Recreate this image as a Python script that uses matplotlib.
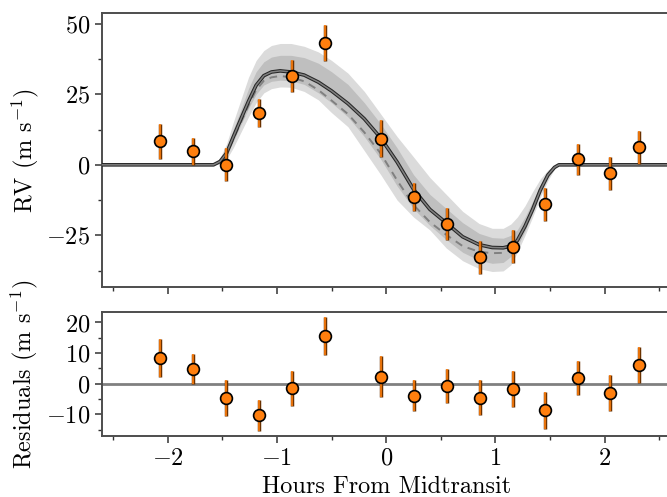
import numpy as np
import matplotlib
matplotlib.use("Agg")
import matplotlib.pyplot as plt
from matplotlib.ticker import MultipleLocator

plt.rcParams["font.family"] = "serif"
plt.rcParams["font.serif"] = ["cmr10"]
plt.rcParams["mathtext.fontset"] = "cm"
plt.rcParams["axes.formatter.use_mathtext"] = True
plt.rcParams["axes.unicode_minus"] = True

# observed RVs (hours from midtransit, m/s)
t_obs = [-2.068, -1.766, -1.467, -1.162, -0.863, -0.564, -0.045, 0.253,
         0.555, 0.854, 1.156, 1.452, 1.757, 2.052, 2.315]
rv_obs = [8.4, 4.85, 0.0, 18.3, 31.6, 43.2, 9.2, -11.4,
          -21.0, -32.8, -29.0, -14.0, 1.9, -3.05, 6.15]
rv_err = [6.2, 4.8, 5.8, 5.0, 5.7, 6.3, 6.6, 5.0,
          5.6, 5.75, 5.8, 5.9, 5.5, 5.8, 6.0]
resid = [8.3, 4.8, -4.66, -10.3, -1.4, 15.55, 2.3, -3.9,
         -0.75, -4.55, -1.7, -8.7, 1.97, -3.0, 6.1]

# model curves
t_mod = [-2.6, -1.58, -1.52, -1.46, -1.40, -1.33, -1.26, -1.19, -1.12, -1.05,
         -0.97, -0.87, -0.75, -0.62, -0.5, -0.35, -0.2, -0.05, 0.1, 0.25,
         0.4, 0.55, 0.7, 0.85, 0.97, 1.07, 1.14, 1.2, 1.27, 1.34,
         1.41, 1.48, 1.54, 1.58, 2.6]
best = [0, 0, 1.2, 4.2, 9.8, 16.2, 22.5, 28.2, 31.6, 32.9,
        33.3, 32.9, 31.8, 29.3, 26.2, 21.7, 16.3, 9.5, 1.0, -8.7,
        -15.8, -20.6, -25.5, -28.3, -29.3, -29.4, -28.8, -26.8, -21.8, -15.8,
        -9.0, -3.6, -0.9, 0, 0]
alt = [0, 0, 1.0, 3.8, 9.0, 15.0, 21.0, 26.5, 29.8, 31.0,
       31.5, 31.0, 29.6, 26.5, 22.8, 18.0, 11.5, 4.0, -5.5, -14.2,
       -20.3, -24.8, -28.8, -30.8, -31.3, -31.2, -30.0, -27.2, -22.0, -15.8,
       -9.0, -3.6, -0.9, 0, 0]
outer_lo = [0, 0, 0.3, 2.0, 6.0, 11.5, 17.0, 22.0, 25.5, 27.0,
            27.6, 27.5, 26.0, 23.0, 18.5, 13.5, 5.0, -3.5, -12.5, -18.5,
            -23.1, -29.5, -34.0, -36.8, -37.8, -37.6, -35.5, -31.0, -25.0, -18.5,
            -11.5, -5.5, -1.5, 0, 0]
outer_hi = [0, 0, 2.5, 7.5, 15.0, 23.0, 31.0, 37.0, 40.5, 42.3,
            43.0, 43.0, 42.0, 40.0, 37.0, 32.5, 26.0, 18.0, 10.0, 2.8,
            -4.5, -10.5, -16.5, -20.8, -22.5, -22.5, -21.0, -18.5, -14.5, -9.5,
            -5.0, -1.8, -0.3, 0, 0]
inner_lo = [0, 0, 0.7, 3.2, 8.2, 14.2, 20.0, 25.0, 28.3, 29.6,
            30.0, 29.8, 28.5, 25.5, 22.0, 17.0, 10.0, 2.0, -7.5, -15.5,
            -21.5, -26.5, -31.0, -33.8, -34.9, -34.6, -32.5, -29.0, -23.5, -17.0,
            -10.2, -4.5, -1.2, 0, 0]
inner_hi = [0, 0, 1.8, 5.8, 12.5, 19.5, 27.0, 33.0, 36.5, 38.2,
            38.8, 38.8, 38.0, 36.0, 33.0, 28.5, 22.0, 14.5, 6.0, -3.5,
            -10.5, -15.5, -20.5, -24.3, -25.8, -26.0, -25.0, -23.0, -18.5, -13.0,
            -7.0, -2.6, -0.5, 0, 0]

fig = plt.figure(figsize=(6.67, 4.97), dpi=100)
ax1 = fig.add_axes([0.153, 0.4225, 0.852, 0.5513])
ax2 = fig.add_axes([0.153, 0.1227, 0.852, 0.2495])


def draw_points(ax, y):
    ax.errorbar(t_obs, y, yerr=rv_err, fmt="none", ecolor="#6b3200",
                elinewidth=2.5, capsize=0, zorder=5)
    ax.errorbar(t_obs, y, yerr=rv_err, fmt="none", ecolor="#ff7f0e",
                elinewidth=1.2, capsize=0, zorder=6)
    ax.plot(t_obs, y, "o", ms=8.5, mfc="#ff7f0e", mec="k", mew=1.2, zorder=7)


ax1.fill_between(t_mod, outer_lo, outer_hi, color="0.86", lw=0, zorder=1)
ax1.fill_between(t_mod, inner_lo, inner_hi, color="0.75", lw=0, zorder=2)
ax1.plot(t_mod, alt, color="0.5", lw=1.4, ls=(0, (4, 3)), zorder=3)
ax1.plot(t_mod, best, color="0.15", lw=2.6, zorder=4)
ax1.plot(t_mod, best, color="0.5", lw=1.1, zorder=4)
draw_points(ax1, rv_obs)

ax2.axhline(0, color="0.5", lw=2, zorder=1)
draw_points(ax2, resid)

for ax in (ax1, ax2):
    ax.set_xlim(-2.6, 2.6)
    ax.xaxis.set_major_locator(MultipleLocator(1))
    ax.xaxis.set_minor_locator(MultipleLocator(0.5))
    ax.tick_params(which="major", length=5, width=1.1, labelsize=17.5,
                   top=False, right=False, color="0.2")
    ax.tick_params(which="minor", length=3, width=1.0,
                   top=False, right=False, color="0.2")
    for s in ax.spines.values():
        s.set_color("0.3")
        s.set_linewidth(1.4)

ax1.set_ylim(-43.3, 53.8)
ax1.yaxis.set_major_locator(MultipleLocator(25))
ax1.yaxis.set_minor_locator(MultipleLocator(12.5))
ax1.tick_params(labelbottom=False)
ax1.set_ylabel(r"RV (m s$^{-1}$)", fontsize=17.5)

ax2.set_ylim(-17.05, 23.4)
ax2.yaxis.set_major_locator(MultipleLocator(10))
ax2.yaxis.set_minor_locator(MultipleLocator(5))
ax2.set_ylabel(r"Residuals (m s$^{-1}$)", fontsize=17.5)
ax2.set_xlabel("Hours From Midtransit", fontsize=17.5)

fig.align_ylabels([ax1, ax2])
fig.savefig("out.png", dpi=100)
